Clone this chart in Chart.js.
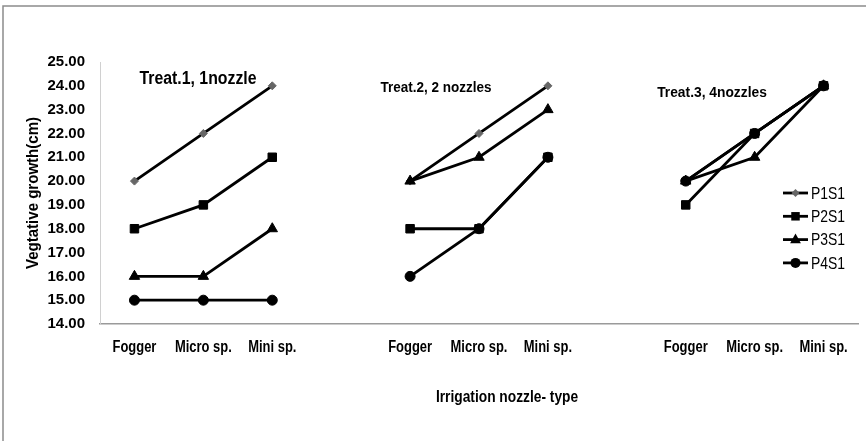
<!DOCTYPE html>
<html>
<head>
<meta charset="utf-8">
<script src="https://cdn.jsdelivr.net/npm/chart.js@4.4.1/dist/chart.umd.min.js"></script>
<style>
  body { margin: 0; background: #fff; }
  canvas { display: block; }
</style>
</head>
<body>
<canvas id="chart" width="866" height="441"></canvas>
<script>
// categories: three groups of nozzle types, empty slots between groups
const categories = ['Fogger', 'Micro sp.', 'Mini sp.', '', 'Fogger', 'Micro sp.', 'Mini sp.', '', 'Fogger', 'Micro sp.', 'Mini sp.'];
const yTicks = [14, 15, 16, 17, 18, 19, 20, 21, 22, 23, 24, 25];

const p1s1 = [20, 22, 24, null, 20, 22, 24, null, 20, 22, 24];
const p2s1 = [18, 19, 21, null, 18, 18, 21, null, 19, 22, 24];
const p3s1 = [16, 16, 18, null, 20, 21, 23, null, 20, 21, 24];
const p4s1 = [15, 15, 15, null, 16, 18, 21, null, 20, 22, 24];

const seriesNames = ['P1S1', 'P2S1', 'P3S1', 'P4S1'];
const groupNotes = ['Treat.1, 1nozzle', 'Treat.2, 2 nozzles', 'Treat.3, 4nozzles'];

const sans = "'Liberation Sans', Arial, sans-serif";

function makeSet(label, data, style, radius, fill, order) {
  return {
    label, data, order,
    borderColor: '#000', borderWidth: 2.8,
    pointStyle: style, pointRadius: radius, pointHoverRadius: radius,
    pointBackgroundColor: fill, pointBorderColor: fill, pointBorderWidth: 1,
    spanGaps: false, tension: 0
  };
}

// text squeezed horizontally, the installed fonts have no narrow face
function squeezed(ctx, text, x, y, font, sx, align) {
  ctx.save();
  ctx.font = font;
  ctx.textAlign = align || 'center';
  ctx.textBaseline = 'middle';
  ctx.translate(x, y);
  ctx.scale(sx, 1);
  ctx.fillText(text, 0, 0);
  ctx.restore();
}

// draws marker shapes for the hand-made legend
function marker(ctx, style, x, y, r, fill) {
  ctx.fillStyle = fill;
  ctx.beginPath();
  if (style === 'rectRot') {
    ctx.moveTo(x, y - r); ctx.lineTo(x + r, y); ctx.lineTo(x, y + r); ctx.lineTo(x - r, y);
  } else if (style === 'rect') {
    const s = r * Math.SQRT1_2;
    ctx.rect(x - s, y - s, 2 * s, 2 * s);
  } else if (style === 'triangle') {
    ctx.moveTo(x, y - r); ctx.lineTo(x + r * 0.9, y + r * 0.6); ctx.lineTo(x - r * 0.9, y + r * 0.6);
  } else {
    ctx.arc(x, y, r, 0, Math.PI * 2);
  }
  ctx.closePath();
  ctx.fill();
}

const extras = {
  id: 'extras',
  afterDraw(chart) {
    const ctx = chart.ctx;
    const xs = chart.scales.x;
    ctx.save();

    // outer frame
    ctx.strokeStyle = '#8c8c8c';
    ctx.lineWidth = 1.5;
    ctx.beginPath();
    ctx.moveTo(3, 441); ctx.lineTo(3, 6); ctx.lineTo(866, 6);
    ctx.stroke();

    ctx.fillStyle = '#000';

    // category labels
    categories.forEach((c, i) => {
      if (c) squeezed(ctx, c, xs.getPixelForValue(i), 348, 'bold 16px ' + sans, 0.81);
    });

    // axis titles
    squeezed(ctx, 'Irrigation nozzle- type', 507, 398, 'bold 16px ' + sans, 0.86);
    ctx.save();
    ctx.translate(34, 193);
    ctx.rotate(-Math.PI / 2);
    squeezed(ctx, 'Vegtative growth(cm)', 0, 0, 'bold 16px ' + sans, 0.94);
    ctx.restore();

    // group notes
    squeezed(ctx, groupNotes[0], 198, 79, 'bold 18px ' + sans, 0.88);
    squeezed(ctx, groupNotes[1], 436, 88, 'bold 15px ' + sans, 0.9);
    squeezed(ctx, groupNotes[2], 712, 93, 'bold 15px ' + sans, 0.92);

    // legend
    chart.data.datasets.forEach((ds, i) => {
      const y = 193 + i * 23.3;
      ctx.strokeStyle = '#000';
      ctx.lineWidth = 2.8;
      ctx.beginPath();
      ctx.moveTo(783, y); ctx.lineTo(808, y);
      ctx.stroke();
      marker(ctx, ds.pointStyle, 795.5, y, ds.pointRadius, ds.pointBackgroundColor);
      ctx.fillStyle = '#000';
      squeezed(ctx, ds.label, 811, y + 1, '17px ' + sans, 0.82, 'left');
    });

    ctx.restore();
  }
};

new Chart(document.getElementById('chart'), {
  type: 'line',
  data: {
    labels: categories,
    datasets: [
      makeSet(seriesNames[0], p1s1, 'rectRot', 4, '#666', 4),
      makeSet(seriesNames[1], p2s1, 'rect', 6, '#000', 3),
      makeSet(seriesNames[2], p3s1, 'triangle', 6, '#000', 2),
      makeSet(seriesNames[3], p4s1, 'circle', 5, '#000', 1)
    ]
  },
  options: {
    responsive: false,
    devicePixelRatio: 1,
    animation: false,
    layout: { padding: { top: 62, right: 8, left: 0, bottom: 0 } },
    plugins: { legend: { display: false }, tooltip: { enabled: false } },
    scales: {
      x: {
        offset: true,
        grid: { display: false, drawTicks: false },
        border: { display: true, color: '#9a9a9a', width: 1.5 },
        ticks: { display: false, autoSkip: false },
        afterFit(scale) { scale.height = 117; }
      },
      y: {
        min: 14, max: 25,
        afterBuildTicks(scale) { scale.ticks = yTicks.map(v => ({ value: v })); },
        grid: { display: false, drawTicks: false },
        border: { display: true, color: '#d0d0d0', width: 1 },
        ticks: {
          padding: 15, color: '#000',
          font: { family: sans, size: 15, weight: 'bold' },
          callback: v => v.toFixed(2)
        },
        afterFit(scale) { scale.width = 100; }
      }
    }
  },
  plugins: [extras]
});
</script>
</body>
</html>
